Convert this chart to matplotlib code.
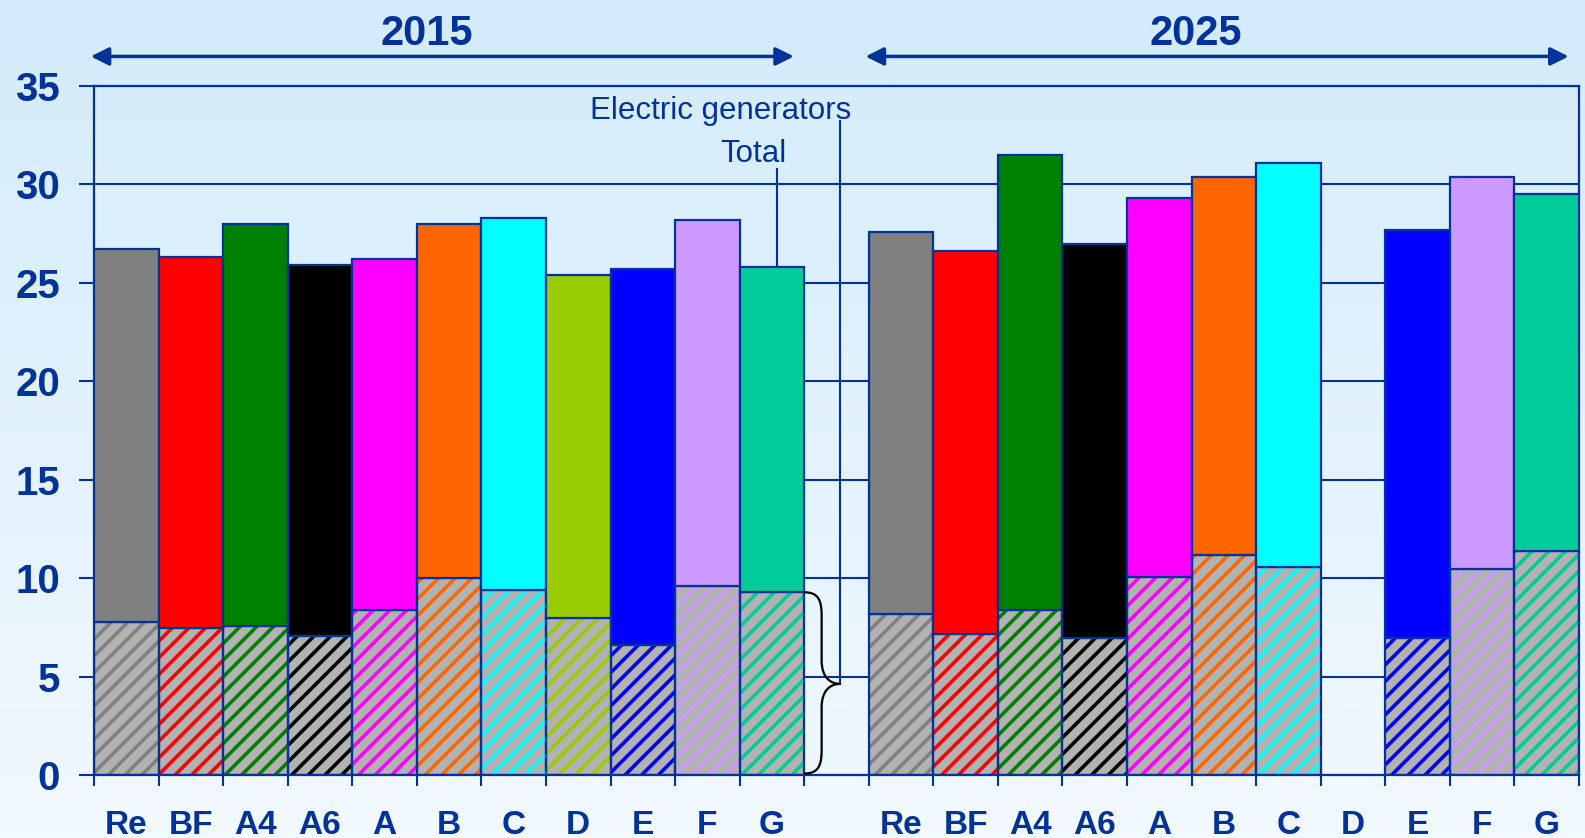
import numpy as np
import matplotlib
matplotlib.use("Agg")
import matplotlib.pyplot as plt
from matplotlib.path import Path
from matplotlib.patches import PathPatch

plt.rcParams['font.family'] = ['Liberation Sans', 'DejaVu Sans']
plt.rcParams['hatch.linewidth'] = 2.6

# data
categories = ["Re", "BF", "A4", "A6", "A", "B", "C", "D", "E", "F", "G"]
colors = ["#808080", "#ff0000", "#008000", "#000000", "#ff00ff", "#ff6600",
          "#00ffff", "#99cc00", "#0000ff", "#cc99ff", "#00cc99"]
total_2015 = [26.7, 26.3, 28.0, 25.9, 26.2, 28.0, 28.3, 25.4, 25.7, 28.2, 25.8]
elec_2015 = [7.8, 7.5, 7.6, 7.1, 8.4, 10.0, 9.4, 8.0, 6.6, 9.6, 9.3]
total_2025 = [27.6, 26.6, 31.5, 27.0, 29.3, 30.4, 31.1, 0, 27.7, 30.4, 29.5]
elec_2025 = [8.2, 7.2, 8.4, 7.0, 10.1, 11.2, 10.6, 0, 7.0, 10.5, 11.4]
years = ["2015", "2025"]

navy = "#003399"
hatch_bg = "#b2b2b2"

fig = plt.figure(figsize=(15.85, 8.38), dpi=100)

# background gradient
bg = fig.add_axes([0, 0, 1, 1], zorder=-10)
grad = np.linspace(0, 1, 256).reshape(-1, 1)
top_c = np.array([211, 235, 251]) / 255
bot_c = np.array([242, 249, 255]) / 255
img = top_c[None, None, :] * (1 - grad[:, :, None]) + bot_c[None, None, :] * grad[:, :, None]
bg.imshow(img, aspect='auto', extent=[0, 1, 0, 1])
bg.axis('off')

ax = fig.add_axes([0.0593, 0.0746, 0.9369, 0.8228])
ax.set_facecolor('none')

n = len(categories)
x15 = np.arange(n)
x25 = np.arange(n) + n + 1


def draw_group(xs, totals, elecs):
    for x, t, e, c in zip(xs, totals, elecs, colors):
        if t <= 0:
            continue
        # hatched part (electric generators)
        ax.bar(x, e, width=1, align='edge', facecolor=hatch_bg, edgecolor=c,
               hatch='//', linewidth=0, zorder=2)
        ax.bar(x, e, width=1, align='edge', fill=False, edgecolor=navy,
               linewidth=1.6, zorder=3)
        # solid part
        ax.bar(x, t - e, bottom=e, width=1, align='edge', color=c,
               edgecolor=navy, linewidth=1.6, zorder=3)


draw_group(x15, total_2015, elec_2015)
draw_group(x25, total_2025, elec_2025)

ax.set_xlim(0, 2 * n + 1)
ax.set_ylim(0, 35)
ax.set_yticks(np.arange(0, 36, 5))
ax.yaxis.grid(True, color=navy, linewidth=1.5, zorder=0)
ax.set_axisbelow(True)

centers = np.concatenate([x15, x25]) + 0.5
ax.set_xticks(centers)
ax.set_xticklabels(categories + categories)
ax.set_xticks(np.arange(0, 2 * n + 2), minor=True)
ax.tick_params(axis='x', which='major', length=0, pad=24.5,
               labelsize=24, labelcolor=navy)
ax.tick_params(axis='x', which='minor', length=8, width=1.5, color=navy,
               direction='out')
ax.tick_params(axis='y', length=11, width=1.5, color=navy, pad=13.5,
               labelsize=29, labelcolor=navy)
for lab in ax.get_xticklabels() + ax.get_yticklabels():
    lab.set_fontweight('bold')

for s in ax.spines.values():
    s.set_color(navy)
    s.set_linewidth(1.6)

# year arrows and labels
arrow_y = 36.5
for yr, xs in zip(years, [x15, x25]):
    x0 = xs[0] - 0.05
    x1 = xs[-1] + 0.84
    ax.annotate('', xy=(x1, arrow_y), xytext=(x0, arrow_y),
                arrowprops=dict(arrowstyle='<|-|>', color=navy, lw=2.5,
                                mutation_scale=27, shrinkA=0, shrinkB=0),
                annotation_clip=False)
ax.text(5.15, 37.1, years[0], ha='center', va='baseline', fontsize=30,
        fontweight='bold', color=navy, clip_on=False)
ax.text(17.07, 37.1, years[1], ha='center', va='baseline', fontsize=30,
        fontweight='bold', color=navy, clip_on=False)

# annotation: Total
gx = x15[-1]
ax.plot([gx + 0.58, gx + 0.58], [total_2015[-1], 30.8], color=navy, lw=1.5,
        zorder=4)
ax.text(gx + 0.72, 31.14, "Total", ha='right', va='baseline', fontsize=22.5,
        color=navy)

# annotation: Electric generators with curly brace
e_top = elec_2015[-1]
ymid = e_top / 2
xb0 = gx + 1.0
xb1 = gx + 1.27
xt = gx + 1.56
verts = [
    (xb0, e_top), (xb0 + 0.22, e_top), (xb1, e_top - 0.4), (xb1, e_top - 1.2),
    (xb1, ymid + 1.2),
    (xb1, ymid + 0.3), (xt - 0.15, ymid), (xt, ymid),
    (xt - 0.15, ymid), (xb1, ymid - 0.3), (xb1, ymid - 1.2),
    (xb1, 1.3),
    (xb1, 0.5), (xb0 + 0.22, 0.1), (xb0, 0.1),
]
codes = [Path.MOVETO, Path.CURVE4, Path.CURVE4, Path.CURVE4,
         Path.LINETO,
         Path.CURVE4, Path.CURVE4, Path.CURVE4,
         Path.CURVE4, Path.CURVE4, Path.CURVE4,
         Path.LINETO,
         Path.CURVE4, Path.CURVE4, Path.CURVE4]
ax.add_patch(PathPatch(Path(verts, codes), facecolor='none', edgecolor='black',
                       lw=1.6, zorder=5))
ax.plot([xt, xt], [ymid, 33.2], color=navy, lw=1.5, zorder=4)
ax.text(9.71, 33.3, "Electric generators", ha='center', va='baseline',
        fontsize=22.5, color=navy)

fig.savefig("out.png", dpi=100)
